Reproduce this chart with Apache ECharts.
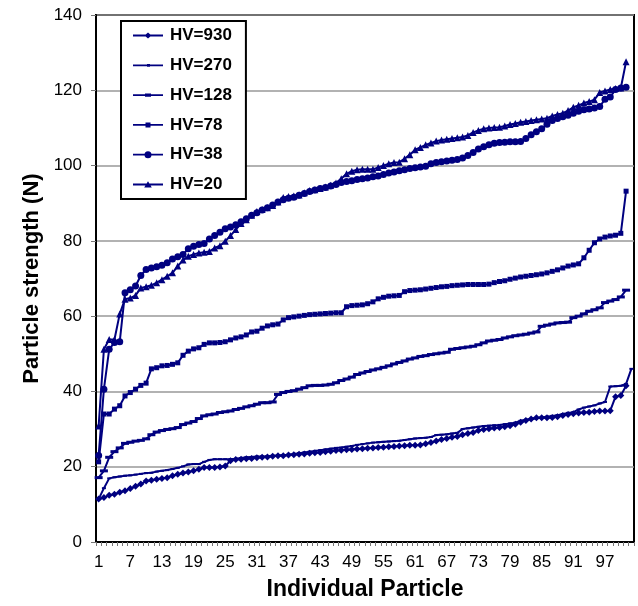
<!DOCTYPE html>
<html>
<head>
<meta charset="utf-8">
<script src="https://cdn.jsdelivr.net/npm/echarts@6/dist/echarts.min.js"></script>
<style>html,body{margin:0;padding:0;background:#fff}#c{width:638px;height:606px}</style>
</head>
<body>
<div id="c"></div>
<script>
// Categories: individual particle numbers 1..102
const categories = Array.from({length: 102}, (_, i) => String(i + 1));
const yTicks = [0, 20, 40, 60, 80, 100, 120, 140];

const hv930 = [11.4,11.8,12.4,12.7,13.2,13.6,14.2,14.8,15.4,16.2,16.4,16.7,16.9,17.1,17.6,18.0,18.3,18.6,18.9,19.3,
19.8,19.8,19.8,19.9,20.2,21.6,21.9,22.0,22.1,22.2,22.4,22.5,22.6,22.8,22.9,22.9,23.1,23.2,23.3,23.4,
23.6,23.7,23.8,24.0,24.1,24.3,24.4,24.5,24.6,24.7,24.8,24.9,25.0,25.1,25.2,25.3,25.4,25.5,25.6,25.7,
25.7,25.8,26.1,26.4,26.8,27.2,27.5,27.8,28.0,28.5,28.8,29.1,29.6,29.9,30.1,30.3,30.4,30.6,30.9,31.3,
31.8,32.3,32.7,33.0,33.0,33.0,33.1,33.3,33.6,33.9,34.1,34.3,34.4,34.5,34.7,34.8,34.8,34.9,38.6,38.9,41.5];

const hv270 = [11.4,14.3,16.9,17.2,17.4,17.6,17.7,17.9,18.1,18.3,18.4,18.7,18.9,19.1,19.4,19.7,20.1,20.6,20.7,20.7,
21.3,21.8,22.0,22.0,22.0,22.0,22.1,22.3,22.5,22.6,22.7,22.7,22.8,22.9,23.0,23.1,23.2,23.4,23.6,23.8,
24.0,24.2,24.4,24.6,24.8,25.0,25.1,25.3,25.5,25.8,26.0,26.2,26.4,26.5,26.6,26.7,26.8,26.9,27.1,27.3,
27.5,27.6,27.7,27.9,28.4,28.5,28.6,28.8,29.0,30.0,30.2,30.4,30.6,30.8,30.9,31.0,31.1,31.3,31.5,31.7,
32.2,32.5,32.7,32.9,33.1,33.3,33.5,33.7,34.0,34.3,34.5,35.2,35.7,36.0,36.3,36.8,37.2,41.3,41.4,41.5,42.0,46.0];

const hv128 = [17.1,18.9,22.5,24.0,25.0,26.2,26.5,26.8,27.0,27.4,28.5,29.2,29.6,29.9,30.1,30.4,31.2,31.6,32.0,32.8,
33.5,33.8,34.0,34.4,34.6,34.8,35.2,35.5,35.9,36.2,36.6,37.0,37.0,37.2,39.2,39.7,40.0,40.2,40.6,41.0,
41.5,41.6,41.6,41.7,41.9,42.3,42.9,43.3,43.8,44.5,44.9,45.3,45.7,46.0,46.4,46.8,47.3,47.7,48.1,48.6,
48.9,49.3,49.5,49.8,50.0,50.2,50.4,51.2,51.4,51.6,51.8,52.0,52.4,52.9,53.4,53.6,53.8,54.2,54.5,54.8,
55.0,55.2,55.5,55.8,57.3,57.6,57.9,58.2,58.3,58.4,59.6,60.0,60.6,61.3,61.7,62.2,63.6,64.0,64.4,65.1,66.9];

const hv78 = [21.3,34.0,34.0,35.3,36.2,38.8,39.7,40.6,41.6,42.2,46.0,46.3,46.8,46.9,47.2,47.6,49.6,50.7,51.3,51.6,
52.5,52.9,52.9,53.0,53.2,53.7,54.2,54.5,55.0,55.8,56.0,56.8,57.4,57.7,57.9,59.0,59.6,59.8,60.0,60.2,
60.4,60.5,60.6,60.7,60.8,60.9,60.9,62.5,62.8,62.9,63.0,63.3,63.8,64.6,65.0,65.3,65.4,65.5,66.5,66.8,
66.9,67.0,67.2,67.4,67.6,67.8,67.9,68.1,68.2,68.3,68.4,68.4,68.4,68.4,68.5,68.9,69.2,69.4,69.8,70.1,
70.4,70.6,70.8,71.0,71.2,71.5,71.9,72.3,72.8,73.3,73.6,73.9,75.5,77.5,79.5,80.5,81.0,81.3,81.5,82.0,93.2];

const hv38 = [23.0,40.6,51.2,53.0,53.2,66.2,67.0,68.0,70.8,72.4,72.8,73.1,73.5,74.2,75.2,75.8,76.4,77.9,78.6,79.0,
79.3,80.5,81.4,82.3,83.2,83.7,84.3,85.1,85.9,86.8,87.5,88.2,88.8,89.5,90.3,90.9,91.3,91.6,92.1,92.6,
93.1,93.5,93.9,94.2,94.6,95.0,95.5,95.8,96.0,96.3,96.5,96.7,97.0,97.2,97.6,98.0,98.3,98.6,98.9,99.2,
99.4,99.6,99.8,100.5,100.8,101.0,101.2,101.4,101.6,102.0,102.7,103.5,104.4,105.0,105.5,105.9,106.1,106.2,106.3,106.3,
106.4,107.2,108.2,109.0,109.8,111.0,112.0,112.5,113.0,113.4,113.9,114.4,114.8,115.0,115.3,115.7,117.6,118.2,120.2,120.6,120.8];

const hv20 = [30.8,51.2,53.8,53.8,60.6,64.5,64.8,65.5,67.5,67.8,68.2,68.9,69.7,70.6,71.5,73.3,74.9,75.9,76.4,76.8,
77.0,77.2,78.1,78.7,79.9,81.4,83.0,84.6,85.6,86.8,87.8,88.3,88.8,89.4,90.3,91.5,91.8,91.9,92.2,92.8,
93.4,93.6,93.9,94.3,94.8,95.4,96.5,97.8,98.5,98.9,99.0,99.0,99.0,99.5,100.0,100.5,100.8,100.9,101.8,102.9,
104.2,104.8,105.5,106.0,106.5,106.8,107.0,107.2,107.4,107.6,108.0,108.8,109.3,109.8,110.0,110.1,110.2,110.5,110.9,111.2,
111.5,111.7,112.0,112.2,112.4,112.6,113.2,113.6,113.9,114.6,115.5,116.0,116.6,117.0,117.5,119.4,119.8,120.2,120.5,120.6,127.6];

const seriesNames = ['HV=930', 'HV=270', 'HV=128', 'HV=78', 'HV=38', 'HV=20'];
const seriesData = [hv930, hv270, hv128, hv78, hv38, hv20];
const symbols = ['diamond', 'rect', 'rect', 'rect', 'circle', 'triangle'];
const symbolSizes = [[7, 7], [4, 2], [8, 3], [5, 5], [7, 7], [7, 7]];

// legend icons: line plus marker, drawn in a 30x7 box
const ICON_FRAME = 'M0,0 L0,7 Z ';
const ICON_LINE = 'M0,2.6 L30,2.6 L30,4.4 L0,4.4 Z ';
const legendMarkers = [
  'M15,0.5 L18.5,3.5 L15,6.5 L11.5,3.5 Z',
  'M14,2.1 L17,2.1 L17,4.9 L14,4.9 Z',
  'M12,1.9 L18,1.9 L18,5.1 L12,5.1 Z',
  'M12.5,1 L17.5,1 L17.5,6 L12.5,6 Z',
  'M11.5,3.5 A3.5,3.5 0 1 1 18.5,3.5 A3.5,3.5 0 1 1 11.5,3.5 Z',
  'M15,0.3 L18.8,6.5 L11.2,6.5 Z'
];

const NAVY = '#000080';
const FONT = "'Liberation Sans', Arial, sans-serif";

const chart = echarts.init(document.getElementById('c'), null, {renderer: 'canvas'});
chart.setOption({
  animation: false,
  backgroundColor: '#fff',
  grid: {left: 96, right: 4, top: 15, bottom: 63, show: true, borderColor: '#000', borderWidth: 2, backgroundColor: 'transparent'},
  legend: {
    orient: 'vertical', left: 121, top: 21,
    data: seriesNames.map((n, i) => ({name: n, icon: 'path://' + ICON_FRAME + ICON_LINE + legendMarkers[i]})),
    backgroundColor: '#fff', borderColor: '#000', borderWidth: 2,
    padding: [6, 14, 6, 12],
    itemWidth: 30, itemHeight: 7, itemGap: 12.8,
    itemStyle: {color: NAVY, borderWidth: 0},
    textStyle: {fontFamily: FONT, fontSize: 17, fontWeight: 'bold', color: '#000', lineHeight: 17, padding: [0, 0, 0, 2]}
  },
  xAxis: {
    type: 'category', data: categories, boundaryGap: true,
    name: 'Individual Particle', nameLocation: 'middle', nameGap: 36,
    nameTextStyle: {fontFamily: FONT, fontSize: 23, fontWeight: 'bold', color: '#000'},
    axisLine: {lineStyle: {color: '#000', width: 2}},
    axisTick: {show: true, interval: 0, length: 4, lineStyle: {color: '#777', width: 1}},
    axisLabel: {interval: 5, margin: 12, fontFamily: FONT, fontSize: 17, color: '#000'},
    splitLine: {show: false}
  },
  yAxis: {
    type: 'value', min: yTicks[0], max: yTicks[yTicks.length - 1], interval: 20,
    name: 'Particle strength (N)', nameLocation: 'middle', nameGap: 52,
    nameTextStyle: {fontFamily: FONT, fontSize: 22, fontWeight: 'bold', color: '#000'},
    axisLine: {show: true, lineStyle: {color: '#000', width: 2}},
    axisTick: {show: true, length: 5, lineStyle: {color: '#777'}},
    axisLabel: {margin: 14, fontFamily: FONT, fontSize: 17, color: '#000'},
    splitLine: {show: true, lineStyle: {color: '#999', width: 1.5}}
  },
  series: seriesNames.map((n, i) => ({
    name: n, type: 'line', data: seriesData[i],
    symbol: symbols[i], symbolSize: symbolSizes[i], showAllSymbol: true,
    lineStyle: {color: NAVY, width: 2},
    itemStyle: {color: NAVY, borderWidth: 0},
    emphasis: {disabled: true}
  }))
});
</script>
</body>
</html>
